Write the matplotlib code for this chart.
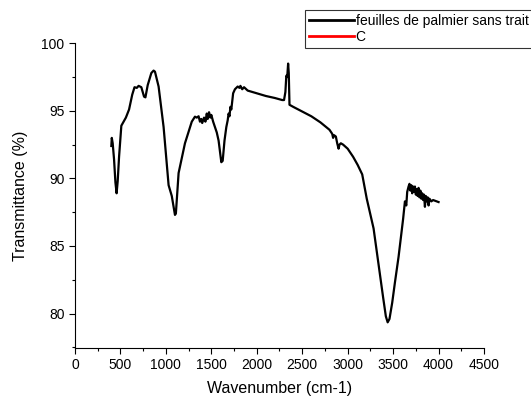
import numpy as np
import matplotlib
matplotlib.use("Agg")
import matplotlib.pyplot as plt
from matplotlib.ticker import MultipleLocator

# -- FTIR spectrum --
wavenumber = [400, 405, 415, 430, 445, 458, 470, 485, 510, 560, 595, 630, 655, 680, 700,
              730, 760, 775, 800, 840, 865, 880, 920, 975, 1030, 1065, 1100, 1110, 1140,
              1210, 1285, 1320, 1340, 1360, 1375, 1390, 1400, 1420, 1435, 1450, 1460, 1475,
              1490, 1500, 1520, 1540, 1560, 1580, 1610, 1625, 1645, 1665, 1680, 1690, 1700,
              1710, 1720, 1740, 1760, 1790, 1810, 1820, 1840, 1860, 1900, 1950, 2000, 2100,
              2200, 2280, 2300, 2315, 2325, 2335, 2345, 2352, 2360, 2400, 2500, 2600, 2700,
              2800, 2830, 2840, 2850, 2870, 2885, 2900, 2910, 2925, 2950, 3000, 3060, 3110,
              3160, 3210, 3285, 3340, 3390, 3420, 3440, 3460, 3490, 3520, 3560, 3590, 3610,
              3630, 3645, 3655, 3670, 3680, 3690, 3700, 3710, 3720, 3730, 3740, 3750, 3760,
              3770, 3780, 3790, 3800, 3810, 3820, 3830, 3840, 3850, 3860, 3870, 3880, 3890,
              3900, 3920, 3940, 3960, 3980, 4000]
transmittance = [92.4, 93.0, 92.6, 91.4, 89.7, 88.9, 89.8, 91.6, 93.9, 94.5, 95.1, 96.2, 96.75,
                 96.7, 96.85, 96.75, 96.05, 96.0, 96.9, 97.8, 97.98, 97.9, 96.8, 93.8, 89.5,
                 88.7, 87.3, 87.4, 90.4, 92.6, 94.2, 94.57, 94.5, 94.6, 94.2, 94.4, 94.1, 94.5,
                 94.2, 94.8, 94.4, 94.9, 94.5, 94.7, 94.2, 93.8, 93.4, 92.8, 91.2, 91.3, 92.8,
                 93.8, 94.3, 94.8, 94.6, 95.3, 95.1, 96.3, 96.6, 96.8, 96.7, 96.85, 96.6, 96.75,
                 96.5, 96.4, 96.3, 96.1, 95.95, 95.8, 95.8, 96.4, 97.6, 97.5, 98.5, 97.8, 95.45,
                 95.3, 94.95, 94.6, 94.15, 93.6, 93.3, 93.0, 93.2, 93.1, 92.6, 92.2, 92.5, 92.6,
                 92.5, 92.2, 91.6, 91.0, 90.3, 88.5, 86.3, 83.6, 81.2, 79.8, 79.35, 79.6, 80.8,
                 82.3, 84.2, 85.9, 87.0, 88.3, 88.0, 89.0, 89.4, 89.6, 89.1, 89.5, 88.9, 89.4,
                 89.0, 89.4, 88.8, 89.2, 88.7, 89.3, 88.6, 89.1, 88.5, 88.9, 88.4, 88.8, 87.9,
                 88.7, 88.3, 88.6, 88.0, 88.5, 88.3, 88.4, 88.35, 88.3, 88.25]
series_labels = ["feuilles de palmier sans trait", "C"]

plt.rcParams['font.family'] = ['Liberation Sans', 'DejaVu Sans']

fig = plt.figure(figsize=(5.31, 3.99), dpi=100)
ax = fig.add_axes([0.1412, 0.1278, 0.7703, 0.7637])

ax.plot(wavenumber, transmittance, color='black', lw=1.6, label=series_labels[0])
ax.plot([], [], color='red', lw=1.6, label=series_labels[1])

ax.set_xlim(0, 4500)
ax.set_ylim(77.45, 100)
ax.xaxis.set_major_locator(MultipleLocator(500))
ax.xaxis.set_minor_locator(MultipleLocator(250))
ax.yaxis.set_major_locator(MultipleLocator(5))
ax.yaxis.set_minor_locator(MultipleLocator(2.5))
ax.tick_params(which='major', direction='out', length=4, width=0.8, labelsize=10)
ax.tick_params(which='minor', direction='out', length=2.5, width=0.8)
for s in ['top', 'right']:
    ax.spines[s].set_visible(False)

ax.set_xlabel("Wavenumber (cm-1)", fontsize=11.5, labelpad=6)
ax.set_ylabel("Transmittance (%)", fontsize=11.5, labelpad=10)

leg = fig.legend(loc='upper left', bbox_to_anchor=(305/531, 1 - 10/399), fontsize=10,
                 frameon=True, fancybox=False, edgecolor='black', borderpad=0.3,
                 handlelength=3.2, handletextpad=0.15, labelspacing=0.12, borderaxespad=0)
leg.get_frame().set_linewidth(0.8)
for line in leg.get_lines():
    line.set_linewidth(2)

fig.savefig("out.png", dpi=100)
